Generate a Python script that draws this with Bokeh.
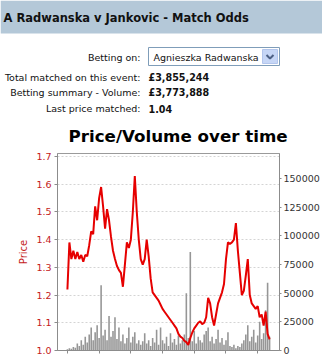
from bokeh.plotting import figure
from bokeh.layouts import column
from bokeh.models import Range1d, LinearAxis, FixedTicker, PrintfTickFormatter, CustomJSTickFormatter
from bokeh.core.properties import value
from bokeh.embed import file_html
from bokeh.resources import INLINE

# ---------------- data ----------------
market_title = "A Radwanska v Jankovic - Match Odds"
selection_label = "Betting on:"
selection = "Agnieszka Radwanska"
info_labels = ["Total matched on this event:", "Betting summary - Volume:", "Last price matched:"]
info_values = ["£3,855,244", "£3,773,888", "1.04"]
chart_title = "Price/Volume over time"

sample_step_min = 3.75  # minutes between samples

price = [
    1.22, 1.39, 1.33, 1.36, 1.33, 1.355, 1.33, 1.345, 1.32, 1.345,
    1.34, 1.38, 1.43, 1.42, 1.52, 1.47, 1.55, 1.59, 1.52, 1.44,
    1.51, 1.47, 1.41, 1.36, 1.33, 1.305, 1.29, 1.28, 1.23, 1.31,
    1.39, 1.37, 1.40, 1.50, 1.63, 1.50, 1.40, 1.33, 1.31, 1.33,
    1.40, 1.34, 1.26, 1.21, 1.20, 1.19, 1.18, 1.165, 1.15, 1.14,
    1.13, 1.12, 1.11, 1.10, 1.09, 1.08, 1.06, 1.05, 1.045, 1.035,
    1.03, 1.02, 1.045, 1.065, 1.08, 1.09, 1.10, 1.105, 1.095, 1.10,
    1.12, 1.19, 1.17, 1.12, 1.09, 1.13, 1.17, 1.19, 1.21, 1.24,
    1.33, 1.39, 1.385, 1.39, 1.40, 1.46, 1.36, 1.28, 1.20, 1.215,
    1.27, 1.33, 1.20, 1.17, 1.16, 1.15, 1.16, 1.12, 1.13, 1.09,
    1.14, 1.06, 1.04,
]

volume = [
    1000, 2000, 1500, 3000, 2500, 6000, 4000, 9000, 5000, 12000,
    7000, 14000, 20000, 9000, 16000, 22000, 11000, 57000, 13000, 18000,
    9000, 30000, 12000, 17000, 29000, 10000, 20000, 8000, 14000, 6000,
    11000, 20000, 7000, 12000, 16000, 6000, 9000, 5000, 8000, 15000,
    6000, 9000, 4000, 11000, 7000, 18000, 5000, 20000, 9000, 6000,
    12000, 4000, 15000, 7000, 10000, 5000, 13000, 6000, 9000, 14000,
    50000, 11000, 86000, 8000, 17000, 6000, 12000, 9000, 7000, 14000,
    17000, 20000, 8000, 12000, 6000, 10000, 18000, 7000, 11000, 5000,
    9000, 16000, 4000, 3000, 5000, 2000, 4000, 3000, 6000, 9000,
    14000, 22000, 8000, 12000, 18000, 7000, 13000, 25000, 10000, 15000,
    35000, 59000, 12000,
]

minutes = [i * sample_step_min for i in range(len(price))]

price_ticks = [1.0, 1.1, 1.2, 1.3, 1.4, 1.5, 1.6, 1.7]
volume_ticks = [0, 25000, 50000, 75000, 100000, 125000, 150000]
time_ticks = [0, 60, 120, 180, 240, 300, 360]

FONT = value("DejaVu Sans")
W = 322
HH = 152

# ---------------- header ----------------
hdr = figure(width=W, height=HH, x_range=Range1d(0, W), y_range=Range1d(HH, 0),
             toolbar_location=None, output_backend="svg", x_axis_type=None, y_axis_type=None,
             min_border=0, outline_line_color=None)
hdr.grid.visible = False
try:
    hdr.frame_align = False
except Exception:
    pass

hdr.quad(left=[0], right=[W], top=[0], bottom=[33], fill_color="#b4c8d8", line_color=None)
hdr.text(x=[3], y=[17], text=[market_title], text_font=FONT, text_font_size=value("11.5px"),
         text_font_style="bold", text_baseline="middle", text_align="left", text_color="#111111")

label_y = [77, 92, 108]
hdr.text(x=[140], y=[57], text=[selection_label], text_font=FONT, text_font_size=value("9.5px"),
         text_baseline="middle", text_align="right", text_color="#111111")
hdr.text(x=[140] * 3, y=label_y, text=info_labels, text_font=FONT, text_font_size=value("9.5px"),
         text_baseline="middle", text_align="right", text_color="#111111")
hdr.text(x=[148] * 3, y=label_y, text=info_values, text_font=FONT, text_font_size=value("9.6px"),
         text_font_style="bold", text_baseline="middle", text_align="left", text_color="#111111")

# dropdown
hdr.quad(left=[148], right=[279], top=[47], bottom=[65], fill_color="white", line_color="#7f9db9")
hdr.quad(left=[262], right=[277], top=[49], bottom=[63], fill_color="#c6d6f6", line_color="#b2c5ec")
hdr.line(x=[266, 269.5, 273], y=[54.5, 58, 54.5], line_color="#4d6185", line_width=2)
hdr.text(x=[153], y=[56.5], text=[selection], text_font=FONT, text_font_size=value("9.5px"),
         text_baseline="middle", text_align="left", text_color="#111111")

hdr.text(x=[68], y=[135], text=[chart_title], text_font=FONT, text_font_size=value("16.7px"),
         text_font_style="bold", text_baseline="middle", text_align="left", text_color="#000000")

# ---------------- chart ----------------
RED_LABEL = "#c41a1a"
AX = "#8c8c8c"
p = figure(width=W, height=356 - HH, x_range=Range1d(-18.75, 401.25), y_range=Range1d(1.0, 1.711),
           toolbar_location=None, output_backend="svg",
           min_border_left=57, min_border_right=41, min_border_top=1, min_border_bottom=6)
try:
    p.frame_align = False
except Exception:
    pass
p.extra_y_ranges = {"vol": Range1d(0, 171800)}
p.outline_line_color = "#9a9a9a"
p.background_fill_color = "white"

p.vbar(x=minutes, top=volume, bottom=0, width=3.0, y_range_name="vol",
       fill_color="#969696", line_color=None)
p.line(minutes, price, line_color="#e60000", line_width=2)

# x axis (ticks only)
xa = p.xaxis[0]
xa.ticker = FixedTicker(ticks=time_ticks)
xa.formatter = CustomJSTickFormatter(code="return ''")
xa.axis_line_color = AX
xa.major_tick_line_color = AX
xa.major_tick_out = 3
xa.major_tick_in = 0
xa.minor_tick_line_color = None
xa.major_label_standoff = 0

ya = p.yaxis[0]
ya.ticker = FixedTicker(ticks=price_ticks)
ya.formatter = PrintfTickFormatter(format="%.1f")
ya.axis_line_color = AX
ya.major_tick_line_color = AX
ya.major_tick_out = 3
ya.major_tick_in = 0
ya.minor_tick_line_color = None
ya.major_label_standoff = 3
ya.major_label_text_color = RED_LABEL
ya.major_label_text_font = "DejaVu Sans"
ya.major_label_text_font_size = "9.5px"
ya.axis_label = "Price"
ya.axis_label_text_color = RED_LABEL
ya.axis_label_text_font = "DejaVu Sans"
ya.axis_label_text_font_size = "10px"
ya.axis_label_text_font_style = "normal"
ya.axis_label_standoff = 4

ra = LinearAxis(y_range_name="vol", ticker=FixedTicker(ticks=volume_ticks),
                formatter=PrintfTickFormatter(format="%d"))
ra.axis_line_color = AX
ra.major_tick_line_color = AX
ra.major_tick_out = 2
ra.major_tick_in = 0
ra.minor_tick_line_color = None
ra.major_label_standoff = 2
ra.major_label_text_color = "#333333"
ra.major_label_text_font = "DejaVu Sans"
ra.major_label_text_font_size = "9.5px"
p.add_layout(ra, "right")

p.xgrid.visible = False
p.ygrid.ticker = FixedTicker(ticks=price_ticks)
p.ygrid.grid_line_color = "#d4d4d4"
p.ygrid.grid_line_dash = "2 2"

layout = column(hdr, p, spacing=0)
open("out.html", "w").write(file_html(layout, INLINE))
